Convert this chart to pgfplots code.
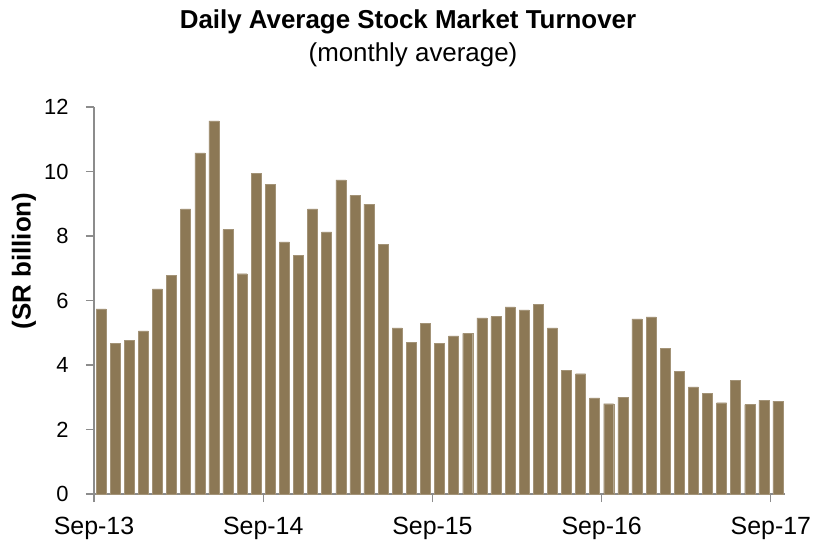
\documentclass[border=0pt]{standalone}
\usepackage{pgfplots}
\pgfplotsset{compat=1.18}
\usepackage{fontspec}
\setmainfont{Liberation Sans}
\definecolor{barc}{HTML}{8C7855}
\definecolor{axc}{HTML}{8C8C8C}
\begin{document}
\begin{tikzpicture}
\path[use as bounding box] (-94bp,-46bp) rectangle (733bp,494bp);
\begin{axis}[
  at={(0,0)}, anchor=south west,
  scale only axis, width=691bp, height=387bp,
  xmin=-0.5, xmax=48.5, ymin=0, ymax=12,
  axis x line=bottom, axis y line=left,
  axis line style={axc, line width=1.2pt, -},
  ytick={0,2,...,12},
  xtick={-0.5,11.5,23.5,35.5,47.5},
  xticklabels={Sep-13,Sep-14,Sep-15,Sep-16,Sep-17},
  tick align=outside,
  major tick length=8bp,
  tick style={axc, line width=1.2pt},
  /pgf/number format/assume math mode=true,
  yticklabel style={font=\fontsize{22}{26}\selectfont, xshift=-14bp},
  xticklabel style={font=\fontsize{25}{29}\selectfont, anchor=base, yshift=-32bp},
  ybar, bar width=0.71,
  clip=false,
]
\addplot[fill=barc, draw=barc!80!white, line width=0.4pt] coordinates {
(0,5.74) (1,4.67) (2,4.77) (3,5.06) (4,6.36) (5,6.78) (6,8.84) (7,10.58)
(8,11.57) (9,8.20) (10,6.83) (11,9.94) (12,9.61) (13,7.82) (14,7.39) (15,8.84)
(16,8.13) (17,9.74) (18,9.26) (19,8.99) (20,7.75) (21,5.15) (22,4.70) (23,5.30)
(24,4.67) (25,4.90) (26,4.98) (27,5.46) (28,5.50) (29,5.80) (30,5.71) (31,5.89)
(32,5.15) (33,3.84) (34,3.73) (35,2.98) (36,2.80) (37,3.00) (38,5.43) (39,5.49)
(40,4.51) (41,3.80) (42,3.32) (43,3.13) (44,2.83) (45,3.52) (46,2.77) (47,2.91)
(48,2.88)
};
\end{axis}
\node[font=\fontsize{26}{30}\selectfont\bfseries, anchor=base] at (314bp,465bp) {Daily Average Stock Market Turnover};
\node[font=\fontsize{26}{30}\selectfont, anchor=base] at (319bp,432bp) {(monthly average)};
\node[font=\fontsize{26}{30}\selectfont\bfseries, rotate=90] at (-70bp,233bp) {(SR billion)};
\end{tikzpicture}
\end{document}
